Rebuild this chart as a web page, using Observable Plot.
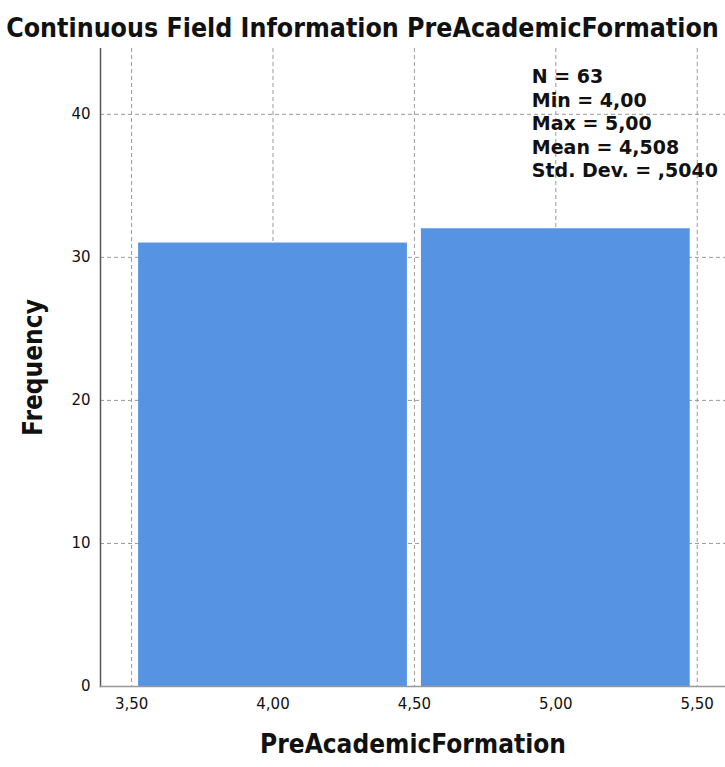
<!DOCTYPE html>
<html><head><meta charset="utf-8">
<script src="https://cdn.jsdelivr.net/npm/d3@7"></script>
<script src="https://cdn.jsdelivr.net/npm/@observablehq/plot@0.6"></script>
<style>
body{margin:0;background:#fff;}
#title{width:725px;height:48px;text-align:center;font-weight:bold;font-size:26.5px;font-family:"DejaVu Sans Condensed","DejaVu Sans",sans-serif;font-stretch:condensed;line-height:56px;color:#111;white-space:nowrap;}
</style></head><body>
<div id="title"></div>
<div id="chart"></div>
<script>
const titleText = "Continuous Field Information PreAcademicFormation";
const xLabel = "PreAcademicFormation";
const yLabel = "Frequency";
const binStarts = [3.5, 4.5];
const binEnds = [4.5, 5.5];
const frequencies = [31, 32];
const xTicks = [3.5, 4.0, 4.5, 5.0, 5.5];
const xTickLabels = ["3,50", "4,00", "4,50", "5,00", "5,50"];
const yTicks = [0, 10, 20, 30, 40];
const statsLines = ["N = 63", "Min = 4,00", "Max = 5,00", "Mean = 4,508", "Std. Dev. = ,5040"];

document.getElementById("title").textContent = titleText;
const bins = binStarts.map((s, i) => ({x0: s, x1: binEnds[i], count: frequencies[i]}));
const labelFont = "DejaVu Sans Condensed";

const chart = Plot.plot({
  width: 725, height: 719,
  marginTop: 0, marginLeft: 100, marginRight: 0, marginBottom: 81,
  x: {domain: [3.39, 5.60]},
  y: {domain: [0, 44.6]},
  style: {fontFamily: "DejaVu Sans", fontSize: "15px", color: "#111", background: "#fff"},
  marks: [
    Plot.gridX(xTicks, {stroke: "#9a9a9a", strokeOpacity: 1, strokeDasharray: "4,3"}),
    Plot.gridY(yTicks.filter(d => d > 0), {stroke: "#9a9a9a", strokeOpacity: 1, strokeDasharray: "4,3"}),
    Plot.rectY(bins, {x1: "x0", x2: "x1", y: "count", fill: "#5694E3", insetLeft: 7, insetRight: 7}),
    Plot.frame({anchor: "left", stroke: "#555", strokeWidth: 1.5}),
    Plot.frame({anchor: "bottom", stroke: "#999", strokeWidth: 1.5}),
    Plot.axisX({ticks: xTicks, tickFormat: d => xTickLabels[xTicks.indexOf(d)], tickSize: 0, tickPadding: 12, label: null}),
    Plot.axisY({ticks: yTicks, tickSize: 0, tickPadding: 10, label: null}),
    Plot.text([xLabel], {frameAnchor: "bottom", dy: 66, text: d => d, fontFamily: labelFont, fontWeight: "bold", fontSize: 26, fill: "#111"}),
    Plot.text([yLabel], {frameAnchor: "left", dx: -67, rotate: -90, textAnchor: "middle", text: d => d, fontFamily: labelFont, fontWeight: "bold", fontSize: 26, fill: "#111"}),
    Plot.text([statsLines.join("\n")], {x: 4.915, y: 43.35, text: d => d, textAnchor: "start", lineAnchor: "top", lineHeight: 1.24, fontWeight: "bold", fontSize: 19, fill: "#111"})
  ]
});
document.getElementById("chart").appendChild(chart);
</script>
</body></html>
